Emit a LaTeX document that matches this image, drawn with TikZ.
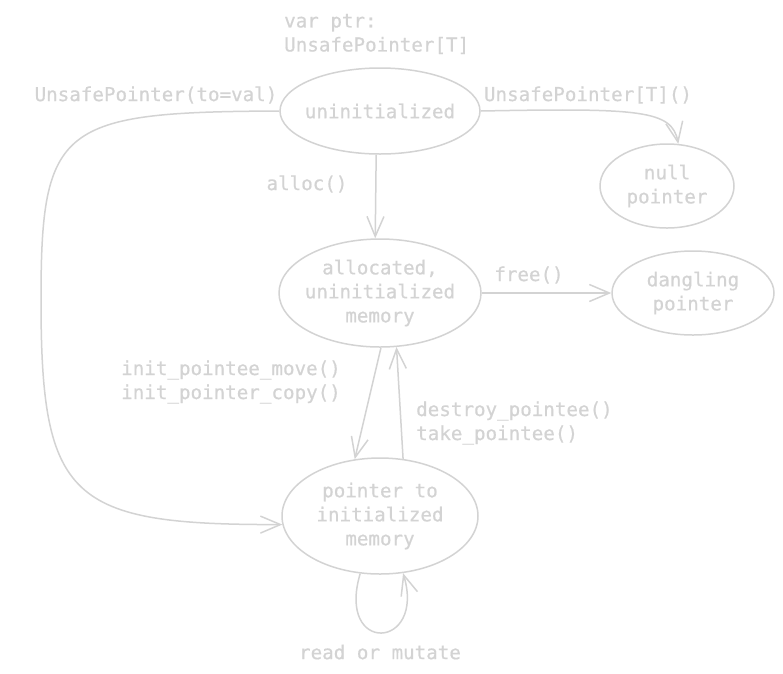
\documentclass[tikz,border=0pt]{standalone}
\usepackage{fontspec}
\newfontfamily\mfont{DejaVu Sans Mono}[FakeBold=0.6]
\usetikzlibrary{shapes.geometric,arrows.meta}
\definecolor{lg}{RGB}{211,211,211}
\tikzset{
  state/.style={ellipse,draw=lg,line width=1.5pt,inner sep=-12pt,text=lg,align=center,font=\mfont\fontsize{19.2}{24}\selectfont},
  lbl/.style={text=lg,inner sep=0pt,font=\mfont\fontsize{19.2}{24}\selectfont},
  edge/.style={draw=lg,line width=1.5pt,-{Straight Barb[length=20pt,width=17pt,line width=1.5pt]}},
}
\begin{document}
\begin{tikzpicture}[x=1pt,y=-1pt]
\useasboundingbox (0,0) rectangle (783,673);
\node[state,minimum width=200pt,minimum height=86pt] (u) at (380,111) {uninitialized};
\node[state,minimum width=134pt,minimum height=84pt] (n) at (667,186) {null\\pointer};
\node[state,minimum width=202pt,minimum height=108pt] (a) at (380,293) {allocated,\\uninitialized\\memory};
\node[state,minimum width=162pt,minimum height=84pt] (d) at (693,293) {dangling\\pointer};
\node[state,minimum width=196pt,minimum height=116pt] (p) at (380,516) {pointer to\\initialized\\memory};

\node[lbl,anchor=west,align=left] (v) at (284,34) {var ptr:\\UnsafePointer[T]};
\node[lbl] (l1) at (156,95) {UnsafePointer(to=val)};
\node[lbl] (l2) at (588,95) {UnsafePointer[T]()};
\node[lbl] (l3) at (307,184) {alloc()};
\node[lbl] (l4) at (529,275) {free()};
\node[lbl,anchor=west,align=left] (l5) at (121,382) {init\_pointee\_move()\\init\_pointer\_copy()};
\node[lbl,anchor=west,align=left] (l6) at (416,423) {destroy\_pointee()\\take\_pointee()};
\node[lbl] (l7) at (380,652) {read or mutate};

\draw[edge] (u.east) .. controls (640,108) and (672,110) .. (n.75);
\draw[edge] (u.-95) -- (a.95);
\draw[edge] (a.east) -- (d.west);
\draw[edge] (a.-89) -- (p.114);
\draw[edge] (p.68) -- (a.-73);
\draw[edge] (u.west) .. controls (60,112) and (41,125) .. (41,300) .. controls (41,500) and (70,525) .. (p.185);
\draw[edge] (p.-109) .. controls (336,655) and (426,650) .. (p.-68);
\end{tikzpicture}
\end{document}
